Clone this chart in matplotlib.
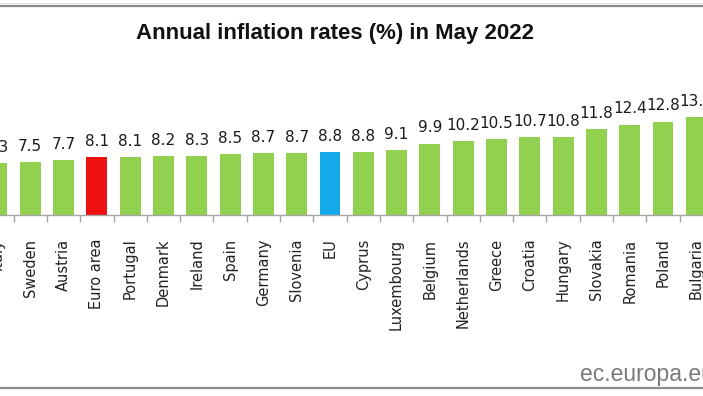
import matplotlib
matplotlib.use("Agg")
import matplotlib.pyplot as plt
from matplotlib.lines import Line2D
from matplotlib.ticker import FixedLocator

countries = ["Italy", "Sweden", "Austria", "Euro area", "Portugal", "Denmark",
             "Ireland", "Spain", "Germany", "Slovenia", "EU", "Cyprus",
             "Luxembourg", "Belgium", "Netherlands", "Greece", "Croatia",
             "Hungary", "Slovakia", "Romania", "Poland", "Bulgaria"]
rates = [7.3, 7.5, 7.7, 8.1, 8.1, 8.2, 8.3, 8.5, 8.7, 8.7, 8.8, 8.8,
         9.1, 9.9, 10.2, 10.5, 10.7, 10.8, 11.8, 12.4, 12.8, 13.4]
highlight = {"Euro area": "#ee1111", "EU": "#14aaea"}
base_color = "#92d050"

W, H = 703, 396
fig = plt.figure(figsize=(W / 100, H / 100), dpi=100)
fig.patch.set_facecolor("white")

# axes placement (pixels)
step = 33.3
x0_center = -3.0
left_px = x0_center - step / 2
width_px = step * len(countries)
base_px = 215
px_per_unit = 7.6
ymin, ymax = 0.5, 16.5
height_px = (ymax - ymin) * px_per_unit
ax = fig.add_axes([left_px / W, (H - base_px) / H, width_px / W, height_px / H])
ax.set_xlim(-0.5, len(countries) - 0.5)
ax.set_ylim(ymin, ymax)

colors = [highlight.get(c, base_color) for c in countries]
x = list(range(len(countries)))
ax.bar(x, rates, width=0.63, color=colors, zorder=2)

for xi, v in zip(x, rates):
    ax.annotate(f"{v:.1f}", (xi, v), xytext=(0, 8), textcoords="offset points",
                ha="center", va="baseline", fontsize=11, color="#1a1a1a",
                family="DejaVu Sans")

for s in ["top", "right", "left"]:
    ax.spines[s].set_visible(False)
ax.spines["bottom"].set_color("#a6a6a6")
ax.spines["bottom"].set_linewidth(1.0)
ax.set_yticks([])
ax.set_xticks(x)
ax.set_xticklabels(countries, rotation=90, fontsize=10.5, color="#222222")
ax.tick_params(axis="x", which="major", length=0, pad=17)
ax.xaxis.set_minor_locator(FixedLocator([i + 0.5 for i in range(-1, len(countries))]))
ax.tick_params(axis="x", which="minor", length=5, width=1, color="#a6a6a6", direction="out")

fig.text(334.5 / W, 1 - 33 / H, "Annual inflation rates (%) in May 2022",
         ha="center", va="center", fontsize=16, fontweight="bold",
         family="Liberation Sans", color="#111111")

fig.text(580 / W, 1 - 381 / H, "ec.europa.eu", ha="left", va="baseline",
         fontsize=16.5, family="Liberation Sans", color="#7a7a7a")

fig.add_artist(Line2D([0, 1], [1 - 3 / H, 1 - 3 / H], transform=fig.transFigure,
                      color="#e6e6e6", lw=0.8))
fig.add_artist(Line2D([0, 1], [1 - 5.5 / H, 1 - 5.5 / H], transform=fig.transFigure,
                      color="#8c8c8c", lw=1.6))
fig.add_artist(Line2D([0, 1], [1 - 388 / H, 1 - 388 / H], transform=fig.transFigure,
                      color="#8c8c8c", lw=1.6))

fig.savefig("out.png", dpi=100, facecolor="white")
